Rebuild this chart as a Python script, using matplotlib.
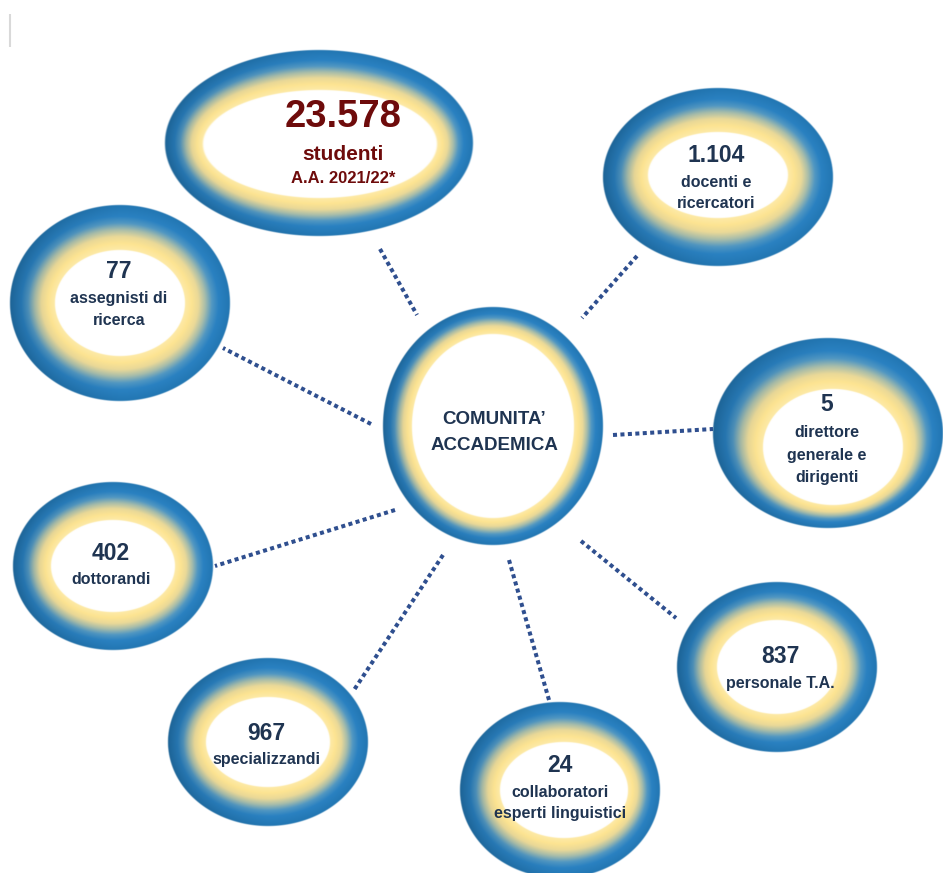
import numpy as np
import matplotlib
matplotlib.use("Agg")
import matplotlib.pyplot as plt
from matplotlib import font_manager as fm
from matplotlib.colors import to_rgb

# ---------------- data ----------------
center_label = ["COMUNITA\u2019", "ACCADEMICA"]
values = ["23.578", "1.104", "5", "837", "24", "967", "402", "77"]
labels = [
    ["studenti", "A.A. 2021/22*"],
    ["docenti e", "ricercatori"],
    ["direttore", "generale e", "dirigenti"],
    ["personale T.A."],
    ["collaboratori", "esperti linguistici"],
    ["specializzandi"],
    ["dottorandi"],
    ["assegnisti di", "ricerca"],
]

# ---------------- layout (pixels) ----------------
# outer ellipse (cx, cy, a, b), inner white ellipse (cx, cy, a, b)
outer = [(319, 143, 154, 93), (718, 177, 115, 89), (828, 433, 115, 95),
         (777, 667, 100, 85), (560, 790, 100, 88), (268, 742, 100, 84),
         (113, 566, 100, 84), (120, 303, 110, 98)]
inner = [(320, 144, 117, 54), (718, 175, 70, 43), (833, 447, 70, 58),
         (777, 667, 60, 47), (564, 790, 64, 48), (268, 742, 62, 45),
         (113, 566, 62, 46), (120, 303, 65, 53)]
center_outer = (493, 426, 110, 119)
center_inner = (493, 426, 81, 92)
# text: x, number baseline, label baselines
text_pos = [(343, 127, [160, 183]), (716, 162, [187, 208]), (827, 411, [437, 460, 482]),
            (780, 663, [688]), (560, 772, [797, 818]), (266, 740, [764]),
            (111, 560, [584]), (119, 278, [303, 325])]
connectors = [((380, 249), (417, 315)), ((637, 256), (582, 318)), ((613, 435), (713, 429)),
              ((581, 541), (676, 618)), ((549, 700), (509, 560)), ((443, 555), (354, 690)),
              ((395, 510), (215, 566)), ((371, 424), (223, 348))]

W, H = 943, 873
NAVY = "#1f3451"
MAROON = "#6e0b0b"
DOT = "#2f4f8f"

names = {f.name for f in fm.fontManager.ttflist}
has_narrow = "Liberation Sans Narrow" in names
REG = "Liberation Sans"
NAR = "Liberation Sans Narrow" if has_narrow else REG
lab_size = 14 if has_narrow else 11.5
ctr_size = 16.5 if has_narrow else 13.5

stops_s = [0.0, 0.15, 0.30, 0.45, 0.60, 0.75, 1.0]
stops_c = np.array([to_rgb(c) for c in
                    ["#fdeaa8", "#fde492", "#ead998", "#a8bdaa", "#5197c2",
                     "#2a81c1", "#2276b2"]])


def ring_image(o, i, ss=2):
    cxo, cyo, ao, bo = o
    cxi, cyi, ai, bi = i
    x0, x1 = int(np.floor(cxo - ao - 2)), int(np.ceil(cxo + ao + 2))
    y0, y1 = int(np.floor(cyo - bo - 2)), int(np.ceil(cyo + bo + 2))
    xs = x0 + (np.arange((x1 - x0) * ss) + 0.5) / ss
    ys = y0 + (np.arange((y1 - y0) * ss) + 0.5) / ss
    X, Y = np.meshgrid(xs, ys)
    lo = np.zeros_like(X)
    hi = np.ones_like(X)
    for _ in range(22):
        mid = (lo + hi) / 2
        a = ai + (ao - ai) * mid
        b = bi + (bo - bi) * mid
        cx = cxi + (cxo - cxi) * mid
        cy = cyi + (cyo - cyi) * mid
        f = ((X - cx) / a) ** 2 + ((Y - cy) / b) ** 2
        inside = f <= 1
        hi = np.where(inside, mid, hi)
        lo = np.where(inside, lo, mid)
    s = (lo + hi) / 2
    rgb = np.stack([np.interp(s, stops_s, stops_c[:, k]) for k in range(3)], axis=-1)
    nx = (X - cxo) / ao
    shade = 1 - 0.16 * np.clip(-nx, 0, 1) * s ** 1.5
    rgb = rgb * shade[..., None]
    ri = np.sqrt(((X - cxi) / ai) ** 2 + ((Y - cyi) / bi) ** 2)
    w = np.clip((1 - ri) * min(ai, bi) + 0.5, 0, 1)
    rgb = rgb * (1 - w[..., None]) + w[..., None]
    ro = np.sqrt(((X - cxo) / ao) ** 2 + ((Y - cyo) / bo) ** 2)
    alpha = np.clip((1 - ro) * min(ao, bo) + 0.5, 0, 1)
    img = np.concatenate([rgb, alpha[..., None]], axis=-1)
    return img, (x0, x1, y1, y0)


fig = plt.figure(figsize=(W / 100, H / 100), dpi=100)
ax = fig.add_axes([0, 0, 1, 1])
ax.set_xlim(0, W)
ax.set_ylim(H, 0)
ax.axis("off")

# small grey mark top-left
ax.plot([9.5, 9.5], [14, 47], color="#d9d9d9", lw=1.5, solid_capstyle="butt", zorder=1)

for (p, q) in connectors:
    ax.plot([p[0], q[0]], [p[1], q[1]], color=DOT, lw=2.9,
            linestyle=(0, (1, 0.85)), dash_capstyle="butt", zorder=1)

for o, i in list(zip(outer, inner)) + [(center_outer, center_inner)]:
    img, ext = ring_image(o, i)
    ax.imshow(img, extent=ext, origin="upper", aspect="auto", zorder=2,
              interpolation="bilinear")

# texts
for k, (val, labs, (tx, nb, lbs)) in enumerate(zip(values, labels, text_pos)):
    if k == 0:
        ax.text(tx, nb, val, ha="center", va="baseline", fontsize=27.5,
                fontweight="bold", family=REG, color=MAROON, zorder=3)
        ax.text(tx, lbs[0], labs[0], ha="center", va="baseline", fontsize=15,
                fontweight="bold", family=REG, color=MAROON, zorder=3)
        ax.text(tx, lbs[1], labs[1], ha="center", va="baseline", fontsize=12,
                fontweight="bold", family=REG, color=MAROON, zorder=3)
    else:
        ax.text(tx, nb, val, ha="center", va="baseline", fontsize=16.5,
                fontweight="bold", family=REG, color=NAVY, zorder=3)
        for lab, yb in zip(labs, lbs):
            ax.text(tx, yb, lab, ha="center", va="baseline", fontsize=lab_size,
                    fontweight="bold", family=NAR, color=NAVY, zorder=3)

for lab, yb in zip(center_label, [424, 450]):
    ax.text(494, yb, lab, ha="center", va="baseline", fontsize=ctr_size,
            fontweight="bold", family=NAR, color=NAVY, zorder=3)

fig.savefig("out.png", dpi=100, facecolor="white")
